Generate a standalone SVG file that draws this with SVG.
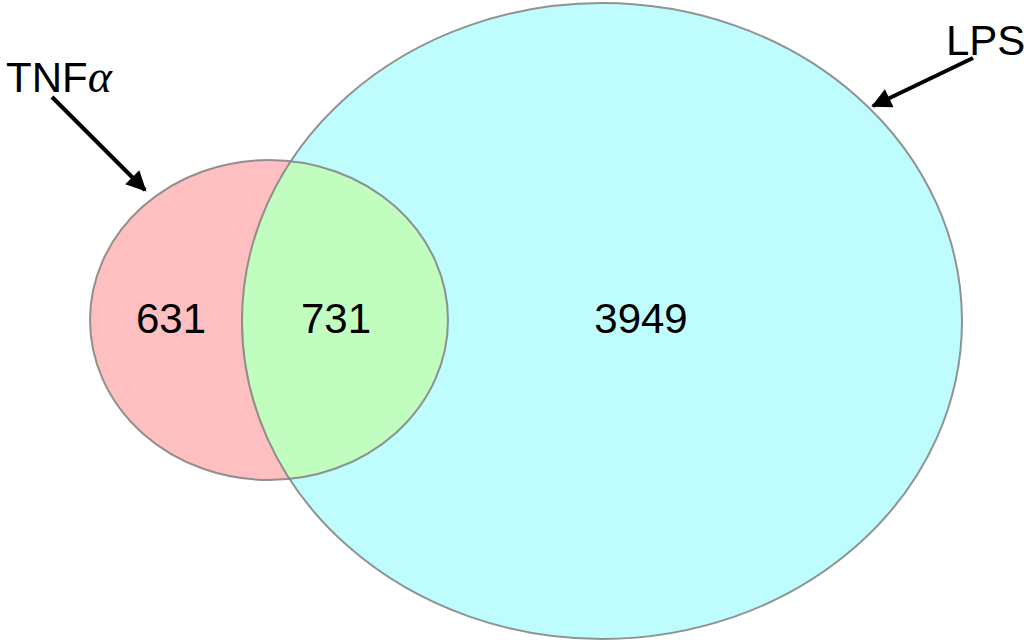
<svg xmlns="http://www.w3.org/2000/svg" width="1024" height="643" viewBox="0 0 1024 643">
<style>
.lbl{font-family:"Liberation Sans",Arial,sans-serif;font-size:42px;fill:#000}
.edge{fill:none;stroke:#808080;stroke-width:2;stroke-opacity:0.85}
.conn{stroke:#000;stroke-width:4;fill:none}
</style>
<defs>
<marker id="ah" viewBox="0 0 10 10" refX="9" refY="5" markerWidth="5.5" markerHeight="5" markerUnits="strokeWidth" orient="auto">
<path d="M0,0 L10,5 L0,10 z" fill="#000"/>
</marker>
<clipPath id="lpsClip"><ellipse cx="602" cy="321" rx="360" ry="318"/></clipPath>
</defs>
<rect width="1024" height="643" fill="#fff"/>
<g id="lps">
<ellipse cx="602" cy="321" rx="360" ry="318" fill="#bffcfe"/>
</g>
<g id="tnf">
<ellipse cx="269" cy="320" rx="179" ry="160" fill="#fdbfbf"/>
</g>
<g id="overlap">
<ellipse cx="269" cy="320" rx="179" ry="160" fill="#c2fdc0" clip-path="url(#lpsClip)"/>
</g>
<g id="outlines">
<ellipse class="edge" cx="602" cy="321" rx="360" ry="318"/>
<ellipse class="edge" cx="269" cy="320" rx="179" ry="160"/>
</g>
<g id="counts">
<text class="lbl" x="171" y="333" text-anchor="middle">631</text>
<text class="lbl" x="336" y="333" text-anchor="middle">731</text>
<text class="lbl" x="641" y="333" text-anchor="middle">3949</text>
</g>
<g id="labels">
<text class="lbl" x="6" y="92" font-size="43">TNF<tspan font-family="'Liberation Serif',serif" font-style="italic" font-size="46">α</tspan></text>
<text class="lbl" x="946" y="55" font-size="41">LPS</text>
</g>
<g id="connectors">
<line class="conn" x1="52" y1="97" x2="145" y2="190" marker-end="url(#ah)"/>
<line class="conn" x1="973" y1="58" x2="873" y2="106" marker-end="url(#ah)"/>
</g>
</svg>
